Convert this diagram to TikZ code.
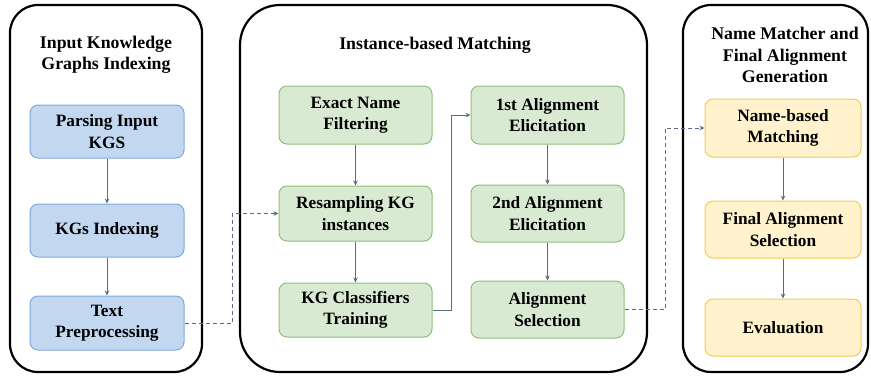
\documentclass[tikz,border=0pt]{standalone}
\usepackage{fontspec}
\setmainfont{Liberation Serif}
\usetikzlibrary{arrows.meta}
\definecolor{bluefill}{HTML}{C2D8F0}
\definecolor{blueline}{HTML}{7EA8DA}
\definecolor{greenfill}{HTML}{D9EAD3}
\definecolor{greenline}{HTML}{8DBF78}
\definecolor{yellowfill}{HTML}{FFF2CC}
\definecolor{yellowline}{HTML}{F5CB55}
\definecolor{conn}{HTML}{5A6A88}
\begin{document}
\begin{tikzpicture}[x=1pt,y=-1pt,
  panel/.style={draw=black,line width=2.2pt,rounded corners=28pt},
  ptitle/.style={font=\bfseries\fontsize{17.8}{21.5}\selectfont,align=center,inner sep=0pt},
  stepbox/.style={rounded corners=8pt,line width=1pt,align=center,inner sep=0pt,font=\bfseries\fontsize{17.3}{21.5}\selectfont},
  bbox/.style={stepbox,draw=blueline,fill=bluefill},
  gbox/.style={stepbox,draw=greenline,fill=greenfill},
  ybox/.style={stepbox,draw=yellowline,fill=yellowfill},
  arr/.style={draw=conn,line width=0.8pt,-{Stealth[length=5pt,width=4.5pt]}},
  darr/.style={arr,dashed,dash pattern=on 4pt off 3pt}]
\useasboundingbox (0,0) rectangle (871,376);
% panels
\draw[panel] (10,5) rectangle (202,372);
\draw[panel,rounded corners=40pt] (240,5) rectangle (647,372);
\draw[panel] (683,5) rectangle (868,372);
% titles
\node[ptitle] (t1) at (106,55) {Input Knowledge\\Graphs Indexing};
\node[ptitle] (t2) at (435,45) {Instance-based Matching};
\node[ptitle] (t3) at (785,55) {Name Matcher and\\Final Alignment\\Generation};
% blue boxes
\node[bbox,minimum width=154pt,minimum height=53pt] (b1) at (107,131.5) {Parsing Input\\KGS};
\node[bbox,minimum width=154pt,minimum height=53pt] (b2) at (107,230.5) {KGs Indexing};
\node[bbox,minimum width=154pt,minimum height=54pt] (b3) at (107,323) {Text\\Preprocessing};
% green boxes
\node[gbox,minimum width=153pt,minimum height=58pt] (g1) at (355.5,115) {Exact Name\\Filtering};
\node[gbox,minimum width=153pt,minimum height=55pt] (g2) at (355.5,213.5) {Resampling KG\\instances};
\node[gbox,minimum width=153pt,minimum height=54pt] (g3) at (355.5,310) {KG Classifiers\\Training};
\node[gbox,minimum width=153pt,minimum height=58pt] (g4) at (547.5,115) {1st Alignment\\Elicitation};
\node[gbox,minimum width=153pt,minimum height=57pt] (g5) at (547.5,213.5) {2nd Alignment\\Elicitation};
\node[gbox,minimum width=153pt,minimum height=57pt] (g6) at (547.5,309.5) {Alignment\\Selection};
% yellow boxes
\node[ybox,minimum width=156pt,minimum height=58pt] (y1) at (783,128) {Name-based\\Matching};
\node[ybox,minimum width=156pt,minimum height=57pt] (y2) at (783,229.5) {Final Alignment\\Selection};
\node[ybox,minimum width=156pt,minimum height=57pt] (y3) at (783,327.5) {Evaluation};
% connectors
\draw[arr] (b1) -- (b2);
\draw[arr] (b2) -- (b3);
\draw[arr] (g1) -- (g2);
\draw[arr] (g2) -- (g3);
\draw[arr] (g4) -- (g5);
\draw[arr] (g5) -- (g6);
\draw[arr] (y1) -- (y2);
\draw[arr] (y2) -- (y3);
\draw[arr] (g3.east) -- ++(19,0) |- (g4.west);
\draw[darr] (b3.east) -- (232,323) |- (g2.west);
\draw[darr] (g6.east) -- (665,309.5) |- (y1.west);
\end{tikzpicture}
\end{document}
